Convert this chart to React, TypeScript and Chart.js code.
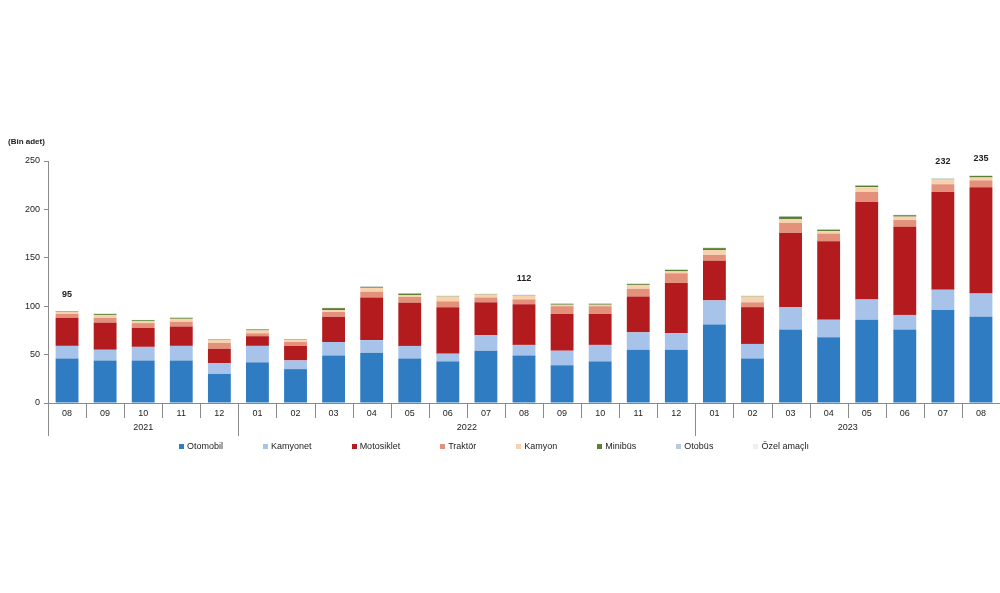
import React, { useEffect, useRef } from "react";
import { Chart, registerables } from "chart.js";

Chart.register(...registerables);

const months = ["08", "09", "10", "11", "12", "01", "02", "03", "04", "05", "06", "07", "08", "09", "10", "11", "12", "01", "02", "03", "04", "05", "06", "07", "08"];
const yearLabels = ["2021", "2022", "2023"];
const yearCounts = [5, 12, 8];

const seriesNames = ["Otomobil", "Kamyonet", "Motosiklet", "Traktör", "Kamyon", "Minibüs", "Otobüs", "Özel amaçlı"];
const seriesColors = ["#2F7CC3", "#A8C3EA", "#B31B1E", "#E4917C", "#F6D3AE", "#5B8034", "#B9CADF", "#EFEFEF"];

const otomobil = [46, 44, 44, 44, 30, 42, 35, 49, 52, 46, 43, 54, 49, 39, 43, 55, 55, 81, 46, 76, 68, 86, 76, 96, 89];
const kamyonet = [13, 11, 14, 15, 11, 17, 9, 14, 13, 13, 8, 16, 11, 15, 17, 18, 17, 25, 15, 23, 18, 21, 15, 21, 24];
const motosiklet = [29, 28, 19.5, 20, 15, 10, 15, 26, 44, 44.5, 48, 34, 42, 38, 32, 37, 52, 41, 38, 77, 81, 101, 91, 101, 110];
const traktor = [4, 5, 5, 5, 6, 3, 4, 5, 6, 6, 6, 5, 5, 8, 8, 8, 10, 6, 5, 10, 8, 10, 7, 8, 7];
const kamyon = [2, 3, 2, 3, 3, 3, 2, 2, 4, 2, 5, 3, 4, 1.5, 1.5, 4, 2, 5, 6, 4, 2.5, 5, 3.5, 5, 3];
const minibus = [0.5, 1, 1, 1, 0.5, 1, 0.5, 2, 1, 1.5, 0.5, 0.5, 0.5, 1, 1, 1, 1.5, 2, 0.5, 2.5, 1.5, 1.5, 1.5, 0.5, 1.5];
const otobus = [0.3, 0.3, 0.3, 0.3, 0.3, 0.3, 0.3, 0.3, 0.4, 0.3, 0.3, 0.3, 0.3, 0.3, 0.3, 0.4, 0.4, 0.5, 0.3, 0.5, 0.4, 0.5, 0.4, 0.5, 0.5];
const ozelAmacli = [0.2, 0.2, 0.2, 0.2, 0.2, 0.2, 0.2, 0.2, 0.2, 0.2, 0.2, 0.2, 0.2, 0.2, 0.2, 0.2, 0.2, 0.2, 0.2, 0.2, 0.2, 0.2, 0.2, 0.2, 0.2];

const seriesValues = [otomobil, kamyonet, motosiklet, traktor, kamyon, minibus, otobus, ozelAmacli];

const totalLabels: (string | null)[] = ["95", null, null, null, null, null, null, null, null, null, null, null, "112", null, null, null, null, null, null, null, null, null, null, "232", "235"];

const yTicks = [0, 50, 100, 150, 200, 250];
const unitLabel = "(Bin adet)";

const FONT = "'Liberation Sans', Arial, sans-serif";

const overlayPlugin = {
  id: "overlay",
  afterDraw(chart: any) {
    const { ctx, chartArea, scales } = chart;
    const x = scales.x;
    const y = scales.y;
    const axisY = chartArea.bottom;
    ctx.save();
    ctx.strokeStyle = "#8a8a8a";
    ctx.lineWidth = 1;
    const n = months.length;
    const half = (x.getPixelForValue(1) - x.getPixelForValue(0)) / 2;
    const yearStarts: number[] = [];
    let acc = 0;
    yearCounts.forEach((c) => {
      yearStarts.push(acc);
      acc += c;
    });
    for (let i = 0; i < n; i++) {
      const px = Math.round(x.getPixelForValue(i) - half) + 0.5;
      const isYear = yearStarts.includes(i);
      ctx.beginPath();
      ctx.moveTo(px, axisY);
      ctx.lineTo(px, axisY + (isYear ? 33 : 15));
      ctx.stroke();
    }
    ctx.fillStyle = "#222";
    ctx.font = `9px ${FONT}`;
    ctx.textAlign = "center";
    ctx.textBaseline = "middle";
    yearLabels.forEach((lab, k) => {
      const s = yearStarts[k];
      const e = s + yearCounts[k] - 1;
      const cx = (x.getPixelForValue(s) + x.getPixelForValue(e)) / 2;
      ctx.fillText(lab, cx, axisY + 25);
    });
    ctx.font = `bold 9px ${FONT}`;
    ctx.textBaseline = "bottom";
    totalLabels.forEach((lab, i) => {
      if (!lab) return;
      let sum = 0;
      seriesValues.forEach((arr) => (sum += arr[i]));
      ctx.fillText(lab, x.getPixelForValue(i), y.getPixelForValue(sum) - 12);
    });
    ctx.font = `bold 8px ${FONT}`;
    ctx.textAlign = "left";
    ctx.textBaseline = "middle";
    ctx.fillText(unitLabel, 8, 142);
    ctx.restore();
  },
};

export default function App() {
  const canvasRef = useRef<HTMLCanvasElement | null>(null);

  useEffect(() => {
    if (!canvasRef.current) return;
    const chart = new Chart(canvasRef.current, {
      type: "bar",
      data: {
        labels: months,
        datasets: seriesNames.map((name, k) => ({
          label: name,
          data: seriesValues[k],
          backgroundColor: seriesColors[k],
          borderWidth: 0,
          barPercentage: 0.6,
          categoryPercentage: 1,
        })),
      },
      options: {
        animation: false,
        responsive: true,
        maintainAspectRatio: false,
        layout: { padding: { top: 161, right: 0, bottom: 160, left: 0 } },
        plugins: {
          legend: { display: false },
          tooltip: { enabled: false },
        },
        scales: {
          x: {
            stacked: true,
            offset: true,
            grid: { display: true, drawOnChartArea: false, drawTicks: false },
            border: { display: true, color: "#8a8a8a", width: 1 },
            ticks: { color: "#222", font: { size: 9, family: FONT }, padding: 5, maxRotation: 0, autoSkip: false },
            afterFit: (s: any) => {
              s.height = 30;
            },
          },
          y: {
            stacked: true,
            min: 0,
            max: 250,
            afterBuildTicks: (s: any) => {
              s.ticks = yTicks.map((v) => ({ value: v }));
            },
            grid: { display: true, drawOnChartArea: false, drawTicks: true, tickLength: 4, color: "#8a8a8a" },
            border: { display: true, color: "#8a8a8a", width: 1 },
            ticks: { color: "#222", font: { size: 9, family: FONT }, padding: 4 },
            afterFit: (s: any) => {
              s.width = 48;
            },
          },
        },
      },
      plugins: [overlayPlugin],
    });
    return () => chart.destroy();
  }, []);

  return (
    <div style={{ position: "absolute", left: 0, top: 0, width: 1000, height: 593, background: "#fff" }}>
      <canvas ref={canvasRef} />
      <div
        style={{
          position: "absolute",
          top: 440,
          left: 0,
          width: 988,
          display: "flex",
          justifyContent: "center",
          gap: 40,
          fontFamily: FONT,
          fontSize: 9,
          color: "#222",
          lineHeight: "12px",
        }}
      >
        {seriesNames.map((name, k) => (
          <div key={name} style={{ display: "flex", alignItems: "center" }}>
            <span style={{ display: "inline-block", width: 5, height: 5, background: seriesColors[k], marginRight: 3 }} />
            <span>{name}</span>
          </div>
        ))}
      </div>
    </div>
  );
}
